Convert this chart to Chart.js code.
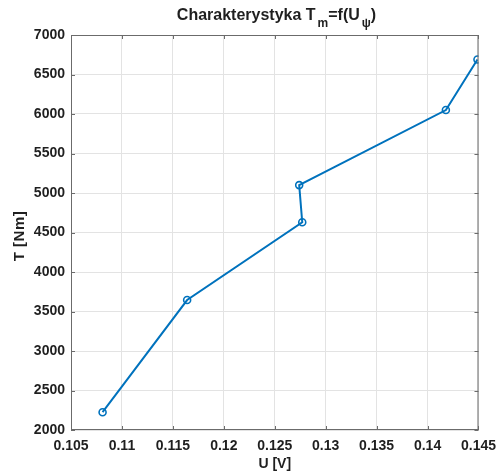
<!DOCTYPE html>
<html>
<head>
<meta charset="utf-8">
<script src="https://cdn.jsdelivr.net/npm/chart.js@4"></script>
<style>
  body { margin: 0; background: #fff; }
  #wrap { width: 504px; height: 475px; }
</style>
</head>
<body>
<div id="wrap"><canvas id="chart" width="504" height="475"></canvas></div>
<script>
// data
const uValues = [0.1081, 0.1164, 0.1277, 0.1274, 0.1418, 0.1449];
const tValues = [2225, 3645, 4630, 5100, 6050, 6690];
const xTicks = [0.105, 0.11, 0.115, 0.12, 0.125, 0.13, 0.135, 0.14, 0.145];
const yTicks = [2000, 2500, 3000, 3500, 4000, 4500, 5000, 5500, 6000, 6500, 7000];

const FONT = "'Liberation Sans', Arial, sans-serif";
const TXT = '#1f1f1f';
const AXIS = '#6b6b6b';

// draw box, inward ticks, title and axis labels like MATLAB
const matlabLook = {
  id: 'matlabLook',
  afterDraw(chart) {
    const c = chart.ctx;
    const a = chart.chartArea;
    const xs = chart.scales.x, ys = chart.scales.y;
    c.save();
    c.strokeStyle = AXIS;
    c.lineWidth = 1;
    c.strokeRect(a.left + 0.5, a.top + 0.5, a.right - a.left - 1, a.bottom - a.top - 1);
    c.beginPath();
    xTicks.forEach(v => {
      const px = Math.round(xs.getPixelForValue(v)) + 0.5;
      c.moveTo(px, a.bottom); c.lineTo(px, a.bottom - 4);
      c.moveTo(px, a.top); c.lineTo(px, a.top + 4);
    });
    yTicks.forEach(v => {
      const py = Math.round(ys.getPixelForValue(v)) + 0.5;
      c.moveTo(a.left, py); c.lineTo(a.left + 4, py);
      c.moveTo(a.right, py); c.lineTo(a.right - 4, py);
    });
    c.stroke();

    c.fillStyle = TXT;
    // axis labels
    c.textAlign = 'center';
    c.textBaseline = 'middle';
    c.font = 'bold 14px ' + FONT;
    c.fillText('U [V]', (a.left + a.right) / 2, 464);
    c.save();
    c.translate(20, 236);
    c.rotate(-Math.PI / 2);
    c.font = 'bold 15px ' + FONT;
    c.letterSpacing = '0.5px';
    c.fillText('T [Nm]', 0, 0);
    c.restore();

    // title with subscripts
    const parts = [
      { t: 'Charakterystyka T', sub: false },
      { t: 'm', sub: true },
      { t: '=f(U', sub: false },
      { t: 'ψ', sub: true },
      { t: ')', sub: false }
    ];
    const big = 'bold 16px ' + FONT, small = 'bold 12px ' + FONT;
    let w = 0;
    parts.forEach(p => { c.font = p.sub ? small : big; p.w = c.measureText(p.t).width + 1; w += p.w; });
    let x = 277 - w / 2;
    c.textAlign = 'left';
    c.textBaseline = 'alphabetic';
    parts.forEach(p => {
      c.font = p.sub ? small : big;
      c.fillText(p.t, x + (p.sub ? 1 : 0), p.sub ? 27 : 20);
      x += p.w;
    });
    c.restore();
  }
};

new Chart(document.getElementById('chart'), {
  type: 'scatter',
  data: {
    datasets: [{
      data: uValues.map((u, i) => ({ x: u, y: tValues[i] })),
      showLine: true,
      borderColor: '#0072BD',
      borderWidth: 2,
      pointRadius: 3.5,
      pointBorderWidth: 1.6,
      pointBackgroundColor: 'rgba(0,0,0,0)',
      pointBorderColor: '#0072BD'
    }]
  },
  options: {
    responsive: false,
    animation: false,
    layout: { padding: { top: 35, right: 25, left: 0, bottom: 0 } },
    plugins: { legend: { display: false }, tooltip: { enabled: false } },
    scales: {
      x: {
        type: 'linear',
        min: 0.105, max: 0.145,
        afterBuildTicks: s => { s.ticks = xTicks.map(v => ({ value: v })); },
        afterFit: s => { s.height = 45; },
        grid: { color: '#e3e3e3', drawTicks: false },
        border: { display: false },
        ticks: {
          padding: 8,
          color: TXT,
          font: { family: FONT, size: 14, weight: 'bold' },
          maxRotation: 0,
          callback: v => String(parseFloat(v.toFixed(3)))
        }
      },
      y: {
        type: 'linear',
        min: 2000, max: 7000,
        afterBuildTicks: s => { s.ticks = yTicks.map(v => ({ value: v })); },
        afterFit: s => { s.width = 71; },
        grid: { color: '#e3e3e3', drawTicks: false },
        border: { display: false },
        ticks: {
          padding: 6,
          color: TXT,
          font: { family: FONT, size: 14, weight: 'bold' },
          callback: v => String(v)
        }
      }
    }
  },
  plugins: [matlabLook]
});
</script>
</body>
</html>
